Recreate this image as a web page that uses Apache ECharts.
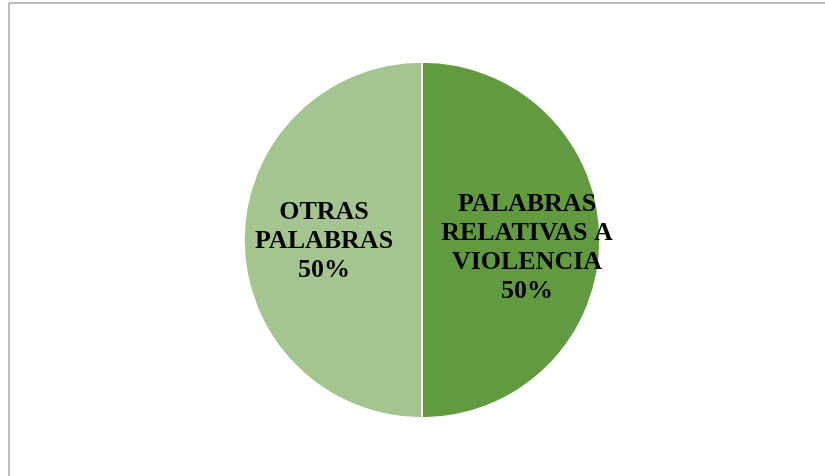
<!DOCTYPE html>
<html>
<head>
<meta charset="utf-8">
<script src="https://cdn.jsdelivr.net/npm/echarts@6/dist/echarts.min.js"></script>
<style>
  html, body { margin: 0; padding: 0; background: #fff; }
  #chart { width: 825px; height: 476px; }
</style>
</head>
<body>
<div id="chart"></div>
<script>
// datos del gráfico
var categories = ["PALABRAS\nRELATIVAS A\nVIOLENCIA", "OTRAS\nPALABRAS"];
var values = [50, 50];
var colors = ["#619A3F", "#A4C590"];
// ajuste fino de la posición de las etiquetas
var labelShift = [[13, 8], [-6, 1]];

var myChart = echarts.init(document.getElementById("chart"));
var option = {
  animation: false,
  color: colors,
  graphic: [
    { type: "line", shape: { x1: 9, y1: 3, x2: 825, y2: 3 }, style: { stroke: "#A6A6A6", lineWidth: 1.5 } },
    { type: "line", shape: { x1: 9, y1: 3, x2: 9, y2: 476 }, style: { stroke: "#A6A6A6", lineWidth: 1.5 } }
  ],
  series: [
    {
      type: "pie",
      center: [422, 240],
      radius: [0, 178],
      startAngle: 90,
      clockwise: true,
      itemStyle: { borderColor: "#fff", borderWidth: 1.5 },
      label: {
        show: true,
        position: "inside",
        color: "#000",
        fontFamily: "Liberation Serif",
        fontWeight: "bold",
        fontSize: 26,
        lineHeight: 29,
        align: "center",
        formatter: function (p) {
          return p.name + "\n" + Math.round(p.percent) + "%";
        }
      },
      labelLayout: function (p) {
        var s = labelShift[p.dataIndex];
        return { dx: s[0], dy: s[1] };
      },
      emphasis: { disabled: true },
      data: categories.map(function (c, i) {
        return { name: c, value: values[i] };
      })
    }
  ]
};
myChart.setOption(option);
</script>
</body>
</html>
